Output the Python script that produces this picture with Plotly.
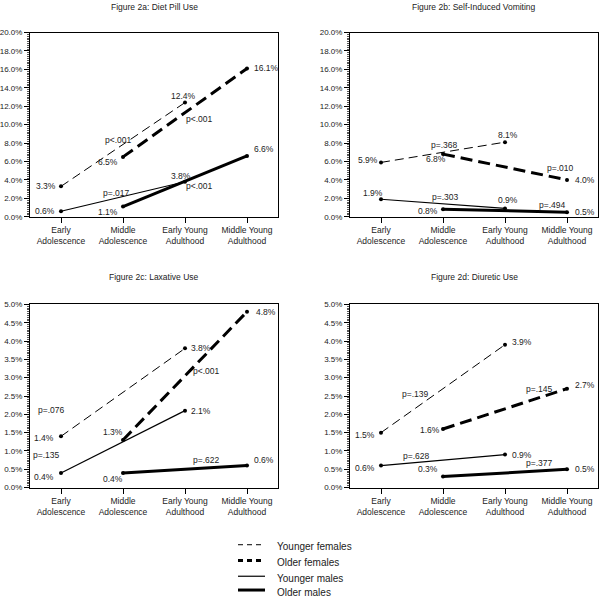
import plotly.graph_objects as go

categories = ["Early<br>Adolescence", "Middle<br>Adolescence", "Early Young<br>Adulthood", "Middle Young<br>Adulthood"]
series_names = ["Younger females", "Older females", "Younger males", "Older males"]

# values (%) per panel, per series, per category (None = not measured)
diet_pill = {
    "Younger females": [3.3, None, 12.4, None],
    "Older females":   [None, 6.5, None, 16.1],
    "Younger males":   [0.6, None, 3.8, None],
    "Older males":     [None, 1.1, None, 6.6],
}
vomiting = {
    "Younger females": [5.9, None, 8.1, None],
    "Older females":   [None, 6.8, None, 4.0],
    "Younger males":   [1.9, None, 0.9, None],
    "Older males":     [None, 0.8, None, 0.5],
}
laxative = {
    "Younger females": [1.4, None, 3.8, None],
    "Older females":   [None, 1.3, None, 4.8],
    "Younger males":   [0.4, None, 2.1, None],
    "Older males":     [None, 0.4, None, 0.6],
}
diuretic = {
    "Younger females": [1.5, None, 3.9, None],
    "Older females":   [None, 1.6, None, 2.7],
    "Younger males":   [0.6, None, 0.9, None],
    "Older males":     [None, 0.3, None, 0.5],
}
titles = ["Figure 2a: Diet Pill Use", "Figure 2b: Self-Induced Vomiting",
          "Figure 2c: Laxative Use", "Figure 2d: Diuretic Use"]
p_values = [
    ["p<.001", "p<.001", "p=.017", "p<.001"],
    ["p=.368", "p=.010", "p=.303", "p=.494"],
    ["p=.076", "p<.001", "p=.135", "p=.622"],
    ["p=.139", "p=.145", "p=.628", "p=.377"],
]
y_max = [20, 20, 5, 5]

# ---- styling / layout (positions) ----
styles = {
    "Younger females": dict(width=1, dash="9px,5px"),
    "Older females":   dict(width=3, dash="12px,6px"),
    "Younger males":   dict(width=1.2, dash="solid"),
    "Older males":     dict(width=3, dash="solid"),
}
W, H = 600, 597
def px(x): return x / W
def py(y): return 1 - y / H

domains = [
    ([px(30), px(278)], [py(216), py(29)]),
    ([px(350), px(598)], [py(216), py(29)]),
    ([px(30), px(278)], [py(491), py(305)]),
    ([px(350), px(598)], [py(491), py(305)]),
]
title_pos = [(154, 3), (474, 3), (154, 277), (474, 277)]

# value label placement: (series, cat index, xanchor, dx, dy[down])
label_specs = [
    [("Younger females", 0, "right", -3, 0), ("Younger females", 2, "center", -2, -7),
     ("Older females", 1, "right", -3, 5), ("Older females", 3, "left", 5, 0),
     ("Younger males", 0, "right", -4, 0), ("Younger males", 2, "center", -4, -6),
     ("Older males", 1, "right", -3, 5), ("Older males", 3, "left", 5, -7)],
    [("Younger females", 0, "right", -1, -2), ("Younger females", 2, "center", 3, -7),
     ("Older females", 1, "center", -7, 5), ("Older females", 3, "left", 6, 0),
     ("Younger males", 0, "center", -8, -6), ("Younger males", 2, "center", 3, -8),
     ("Older males", 1, "right", -3, 2), ("Older males", 3, "left", 6, 0)],
    [("Younger females", 0, "right", -5, 2), ("Younger females", 2, "left", 4, 0),
     ("Older females", 1, "center", -10, -8), ("Older females", 3, "left", 7, 0),
     ("Younger males", 0, "right", -5, 4), ("Younger males", 2, "left", 4, 0),
     ("Older males", 1, "center", -10, 6), ("Older males", 3, "left", 5, -6)],
    [("Younger females", 0, "right", -4, 2), ("Younger females", 2, "left", 5, -3),
     ("Older females", 1, "right", -1, 1), ("Older females", 3, "left", 6, -4),
     ("Younger males", 0, "right", -4, 2), ("Younger males", 2, "left", 5, 0),
     ("Older males", 1, "right", -3, -8), ("Older males", 3, "left", 6, 0)],
]
# p-value label positions (data coords)
p_pos = [
    [(0.92, 8.34), (2.24, 10.6), (0.90, 2.57), (2.24, 3.3)],
    [(1.02, 7.8), (2.89, 5.3), (1.04, 2.1), (2.77, 1.3)],
    [(-0.16, 2.12), (2.34, 3.17), (-0.23, 0.89), (2.35, 0.76)],
    [(0.56, 2.55), (2.55, 2.7), (0.58, 0.85), (2.55, 0.66)],
]

FONT = "Liberation Sans, Arial, sans-serif"
TXT = "#222"
fig = go.Figure()
panels = [diet_pill, vomiting, laxative, diuretic]
xs = list(range(len(categories)))

annotations = []
for k, data in enumerate(panels):
    xa = "x" if k == 0 else f"x{k+1}"
    ya = "y" if k == 0 else f"y{k+1}"
    for name in series_names:
        vals = data[name]
        px_ = [x for x, v in zip(xs, vals) if v is not None]
        pv = [v for v in vals if v is not None]
        fig.add_trace(go.Scatter(
            x=px_, y=pv, mode="lines+markers", xaxis=xa, yaxis=ya,
            line=dict(color="black", **styles[name]),
            marker=dict(color="black", size=4), showlegend=False, hoverinfo="skip"))
    for (name, i, anc, dx, dy) in label_specs[k]:
        v = data[name][i]
        annotations.append(dict(x=i, y=v, xref=xa, yref=ya, text=f"{v:.1f}%",
                                showarrow=False, xanchor=anc, yanchor="middle",
                                xshift=dx, yshift=-dy,
                                font=dict(family=FONT, size=8.5, color=TXT)))
    for txt, (x, y) in zip(p_values[k], p_pos[k]):
        annotations.append(dict(x=x, y=y, xref=xa, yref=ya, text=txt, showarrow=False,
                                xanchor="center", yanchor="middle",
                                font=dict(family=FONT, size=8.5, color=TXT)))
    tx, ty = title_pos[k]
    annotations.append(dict(x=px(tx), y=py(ty), xref="paper", yref="paper", text=titles[k],
                            showarrow=False, xanchor="center", yanchor="middle",
                            font=dict(family=FONT, size=8.5, color=TXT)))
    dom_x, dom_y = domains[k]
    big = y_max[k] == 20
    fig.update_layout(**{
        ("xaxis" if k == 0 else f"xaxis{k+1}"): dict(
            domain=dom_x, range=[-0.5, 3.5], tickmode="array", tickvals=xs, ticktext=categories,
            showgrid=False, zeroline=False, showline=True, linecolor="black", linewidth=1,
            mirror=True, ticks="outside", ticklen=5, tickcolor="black",
            anchor=ya, tickfont=dict(family=FONT, size=8.5, color=TXT)),
        ("yaxis" if k == 0 else f"yaxis{k+1}"): dict(
            domain=dom_y, range=[0, y_max[k]], dtick=2 if big else 0.5, tickformat=".1f",
            ticksuffix="%", showgrid=False, zeroline=False, showline=True, linecolor="black",
            linewidth=1, mirror=True, ticks="outside", ticklen=5, tickcolor="black",
            minor=dict(ticks="outside", ticklen=2, dtick=0.2 if big else 0.05,
                       tickcolor="#555", showgrid=False),
            anchor=xa, tickfont=dict(family=FONT, size=8, color=TXT)),
    })

# legend drawn manually
legend_rows = [551, 567, 583, 597]
shapes = []
for name, ry in zip(series_names, legend_rows):
    st = styles[name]
    shapes.append(dict(type="line", xref="paper", yref="paper", x0=px(238), x1=px(265),
                       y0=py(ry - 2), y1=py(ry - 2),
                       line=dict(color="black", width=st["width"],
                                 dash="5px,4px" if st["dash"] != "solid" else "solid")))
    annotations.append(dict(x=px(275), y=py(ry), xref="paper", yref="paper", text=name,
                            showarrow=False, xanchor="left", yanchor="middle",
                            font=dict(family=FONT, size=10, color=TXT)))

fig.update_layout(width=W, height=H, margin=dict(l=0, r=0, t=0, b=0),
                  paper_bgcolor="white", plot_bgcolor="white",
                  annotations=annotations, shapes=shapes, showlegend=False)
fig.write_html("out.html", config={"displayModeBar": False},
               post_script="document.body.style.margin='0';document.body.style.overflow='hidden';")
